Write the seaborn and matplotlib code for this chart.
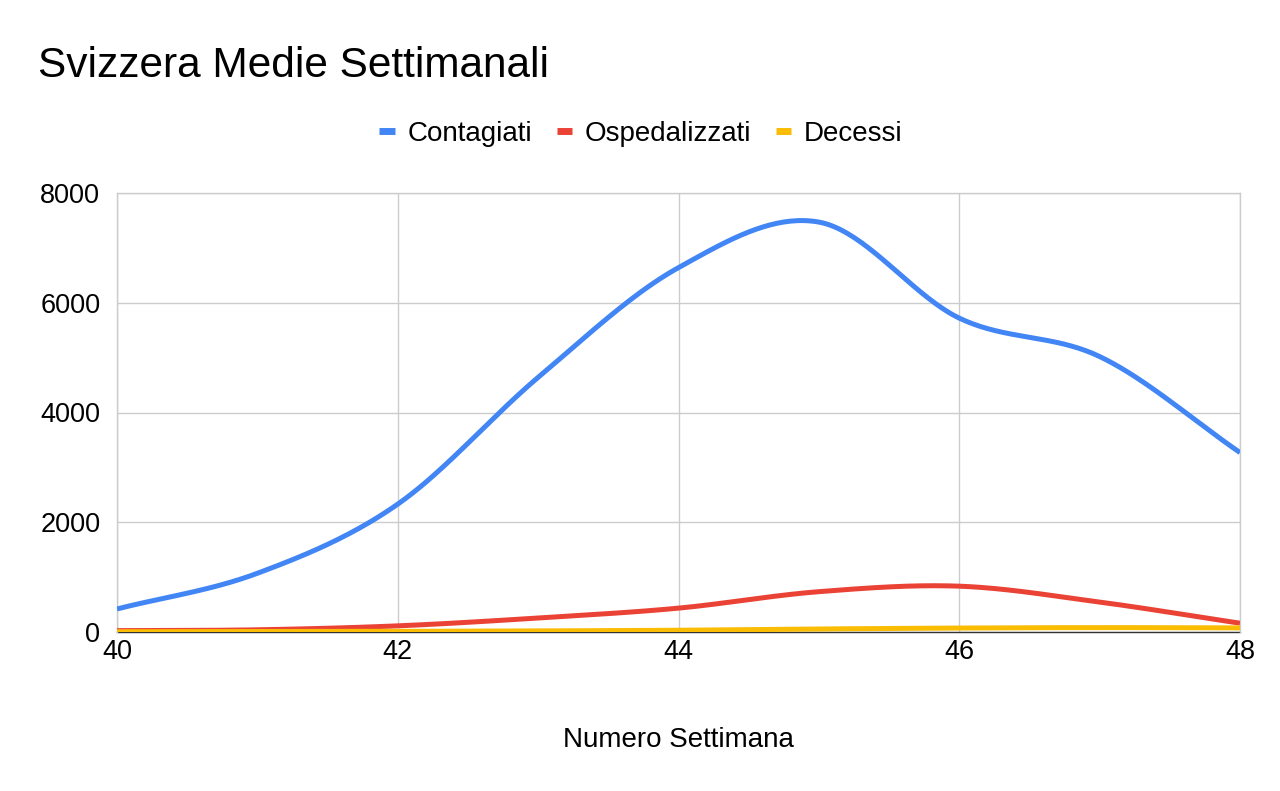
import numpy as np
import pandas as pd
import matplotlib
matplotlib.use('Agg')
import matplotlib.pyplot as plt
import seaborn as sns

# weekly averages
settimane = [40, 41, 42, 43, 44, 45, 46, 47, 48]
contagiati = [420, 1070, 2330, 4640, 6640, 7470, 5720, 5020, 3270]
ospedalizzati = [25, 40, 112, 255, 435, 735, 835, 545, 160]
decessi = [5, 8, 12, 20, 32, 55, 72, 80, 75]

serie = ['Contagiati', 'Ospedalizzati', 'Decessi']
colori = ['#4285F4', '#EA4335', '#FBBC04']


def smooth(x, y, n=40):
    # Catmull-Rom rendering of the curve between the weekly points (drawing only)
    x = np.asarray(x, float)
    y = np.asarray(y, float)
    px = np.concatenate([[2 * x[0] - x[1]], x, [2 * x[-1] - x[-2]]])
    py = np.concatenate([[2 * y[0] - y[1]], y, [2 * y[-1] - y[-2]]])
    xs, ys = [], []
    t = np.linspace(0, 1, n, endpoint=False)
    for i in range(1, len(px) - 2):
        for p, out in ((px, xs), (py, ys)):
            p0, p1, p2, p3 = p[i - 1], p[i], p[i + 1], p[i + 2]
            out.extend(0.5 * (2 * p1 + (-p0 + p2) * t
                              + (2 * p0 - 5 * p1 + 4 * p2 - p3) * t ** 2
                              + (-p0 + 3 * p1 - 3 * p2 + p3) * t ** 3))
    xs.append(x[-1])
    ys.append(y[-1])
    return xs, ys


sns.set_theme(style='whitegrid')
plt.rcParams['font.family'] = ['Liberation Sans', 'DejaVu Sans']

fig = plt.figure(figsize=(12.8, 7.91), dpi=100)
ax = fig.add_axes([117 / 1280, 1 - 632 / 791, (1240 - 117) / 1280, (632 - 193) / 791])

for nome, valori, col in zip(serie, [contagiati, ospedalizzati, decessi], colori):
    sx, sy = smooth(settimane, valori)
    df = pd.DataFrame({'x': sx, 'y': sy})
    sns.lineplot(data=df, x='x', y='y', ax=ax, color=col, linewidth=3.6,
                 label=nome, sort=False, solid_capstyle='butt', zorder=3)

ax.set_xlim(40, 48)
ax.set_ylim(0, 8000)
ax.set_xticks([40, 42, 44, 46, 48])
ax.set_yticks([0, 2000, 4000, 6000, 8000])
ax.grid(True, color='#cccccc', linewidth=1)
ax.tick_params(axis='both', length=0, labelsize=19.5, colors='#000000')
ax.tick_params(axis='y', pad=12)
ax.tick_params(axis='x', pad=5)
for s in ['left', 'right', 'top']:
    ax.spines[s].set_color('#cccccc')
    ax.spines[s].set_linewidth(1)
ax.spines['bottom'].set_color('#333333')
ax.spines['bottom'].set_linewidth(1)
ax.spines['bottom'].set_zorder(2)

ax.set_ylabel('')
ax.set_xlabel('Numero Settimana', fontsize=20, color='#000000', labelpad=45)

fig.text(38 / 1280, 1 - 66 / 791, 'Svizzera Medie Settimanali', fontsize=30.5,
         color='#000000', va='center', ha='left')

leg = ax.legend(loc='center', ncol=3, frameon=False, fontsize=20, labelcolor='#000000',
                handlelength=0.55, handletextpad=0.45, columnspacing=0.9)
leg.set_bbox_to_anchor((641 / 1280, 1 - 134 / 791), transform=fig.transFigure)
for h in leg.get_lines():
    h.set_linewidth(5)

fig.savefig('out.png', dpi=100, facecolor='white')
